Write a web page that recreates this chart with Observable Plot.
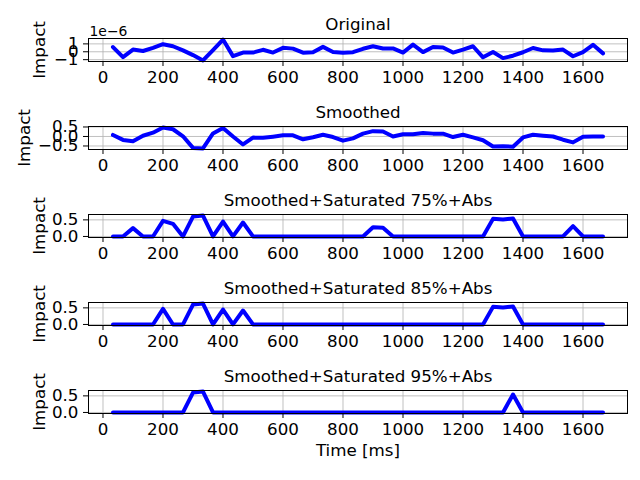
<!DOCTYPE html>
<html><head><meta charset="utf-8">
<script src="https://cdn.jsdelivr.net/npm/d3@7"></script>
<script src="https://cdn.jsdelivr.net/npm/@observablehq/plot@0.6"></script>
<style>
body{margin:0;background:#fff}
#chart{width:640px;height:480px;overflow:hidden}
#chart svg{display:block}
</style>
</head><body><div id="chart"></div>
<script>
// Time axis (ms), one sample per video frame
const time = [33.3, 66.7, 100, 133.3, 166.7, 200, 233.3, 266.7, 300, 333.3,
  366.7, 400, 433.3, 466.7, 500, 533.3, 566.7, 600, 633.3, 666.7,
  700, 733.3, 766.7, 800, 833.3, 866.7, 900, 933.3, 966.7, 1000,
  1033.3, 1066.7, 1100, 1133.3, 1166.7, 1200, 1233.3, 1266.7, 1300, 1333.3,
  1366.7, 1400, 1433.3, 1466.7, 1500, 1533.3, 1566.7, 1600, 1633.3, 1666.7];

// Original impact, in units of 1e-6
const originalExponent = "1e\u22126";
const original = [0.6, -0.68, 0.28, 0.1, 0.5, 0.96, 0.7, 0.18, -0.42, -1.1,
  0.22, 1.55, -0.55, -0.1, -0.1, 0.25, -0.1, 0.5, 0.4, -0.12,
  -0.05, 0.62, -0.02, -0.12, -0.05, 0.38, 0.7, 0.42, 0.42, -0.1,
  0.9, -0.04, 0.6, 0.55, -0.1, 0.28, 0.7, -0.7, -0.02, -0.8,
  -0.5, -0.06, 0.48, 0.18, 0.15, 0.28, -0.57, -0.04, 0.88, -0.2];

const smoothed = [0.08, -0.18, -0.25, 0.04, 0.2, 0.47, 0.38, 0.01, -0.6, -0.63,
  0.16, 0.45, 0.0, -0.42, -0.06, -0.07, -0.01, 0.06, 0.06, -0.15,
  -0.04, 0.09, -0.03, -0.22, -0.1, 0.15, 0.28, 0.26, 0.0, 0.12,
  0.12, 0.18, 0.15, 0.15, -0.03, 0.09, -0.05, -0.2, -0.53, -0.51,
  -0.54, -0.05, 0.09, 0.04, 0.0, -0.17, -0.31, -0.01, 0.0, 0.0];

const sat75 = [0, 0, 0.25, 0, 0, 0.47, 0.38, 0, 0.6, 0.63,
  0, 0.45, 0, 0.42, 0, 0, 0, 0, 0, 0,
  0, 0, 0, 0, 0, 0, 0.28, 0.26, 0, 0,
  0, 0, 0, 0, 0, 0, 0, 0, 0.53, 0.51,
  0.54, 0, 0, 0, 0, 0, 0.31, 0, 0, 0];

const sat85 = [0, 0, 0, 0, 0, 0.47, 0, 0, 0.6, 0.63,
  0, 0.45, 0, 0.42, 0, 0, 0, 0, 0, 0,
  0, 0, 0, 0, 0, 0, 0, 0, 0, 0,
  0, 0, 0, 0, 0, 0, 0, 0, 0.53, 0.51,
  0.54, 0, 0, 0, 0, 0, 0, 0, 0, 0];

const sat95 = [0, 0, 0, 0, 0, 0, 0, 0, 0.6, 0.63,
  0, 0, 0, 0, 0, 0, 0, 0, 0, 0,
  0, 0, 0, 0, 0, 0, 0, 0, 0, 0,
  0, 0, 0, 0, 0, 0, 0, 0, 0, 0,
  0.54, 0, 0, 0, 0, 0, 0, 0, 0, 0];

const titles = ["Original", "Smoothed", "Smoothed+Saturated 75%+Abs",
  "Smoothed+Saturated 85%+Abs", "Smoothed+Saturated 95%+Abs"];
const xTicks = [0, 200, 400, 600, 800, 1000, 1200, 1400, 1600];
const yLabel = "Impact";
const xLabel = "Time [ms]";

const minus = d => (d < 0 ? "\u2212" : "") + Math.abs(d);
const minus1 = d => (d < 0 ? "\u2212" : "") + Math.abs(d).toFixed(1);

const panels = [
  {title: titles[0], values: original, domain: [-1.2325, 1.6825], ticks: [-1, 0, 1], fmt: minus, labelDx: -49, offset: originalExponent},
  {title: titles[1], values: smoothed, domain: [-0.685, 0.525], ticks: [-0.5, 0, 0.5], fmt: minus1, labelDx: -64},
  {title: titles[2], values: sat75, domain: [-0.0315, 0.6615], ticks: [0, 0.5], fmt: minus1, labelDx: -49},
  {title: titles[3], values: sat85, domain: [-0.0315, 0.6615], ticks: [0, 0.5], fmt: minus1, labelDx: -49},
  {title: titles[4], values: sat95, domain: [-0.0315, 0.6615], ticks: [0, 0.5], fmt: minus1, labelDx: -49, last: true}
];

const FS = 16.7;
const grid = {stroke: "#b0b0b0", strokeOpacity: 1, strokeWidth: 0.8};
const chart = document.getElementById("chart");

for (const p of panels) {
  const data = time.map((t, i) => ({t, v: p.values[i]}));
  const height = p.last ? 128 : 88;
  const marks = [
    Plot.gridX(xTicks, grid),
    Plot.gridY(p.ticks, grid),
    Plot.line(data, {x: "t", y: "v", stroke: "#0000ff", strokeWidth: 4, strokeLinejoin: "round"}),
    Plot.frame({stroke: "black", strokeWidth: 1}),
    Plot.axisX({ticks: xTicks, tickSize: 5, tickPadding: 5, fontSize: FS, label: null, tickFormat: d => String(d)}),
    Plot.axisY({ticks: p.ticks, tickSize: 5, tickPadding: 5, fontSize: FS, label: null, tickFormat: p.fmt}),
    Plot.text([p.title], {text: d => d, frameAnchor: "top", dy: -8.3, lineAnchor: "bottom", fontSize: FS}),
    Plot.text([yLabel], {text: d => d, frameAnchor: "left", textAnchor: "middle", lineAnchor: "middle", dx: p.labelDx, rotate: -90, fontSize: FS})
  ];
  if (p.offset) marks.push(Plot.text([p.offset], {text: d => d, frameAnchor: "top-left", textAnchor: "start", lineAnchor: "bottom", dx: 1, dy: -3, fontSize: 13.9}));
  if (p.last) marks.push(Plot.text([xLabel], {text: d => d, frameAnchor: "bottom", dy: 42, fontSize: FS}));
  const svg = Plot.plot({
    width: 640, height,
    marginLeft: 88, marginRight: 13, marginTop: 38, marginBottom: height - 38 - 23,
    x: {type: "linear", domain: [-48.3, 1748.3]},
    y: {type: "linear", domain: p.domain},
    style: {fontFamily: "DejaVu Sans", background: "white", color: "black", overflow: "visible"},
    marks
  });
  chart.append(svg);
}
</script>
</body></html>
